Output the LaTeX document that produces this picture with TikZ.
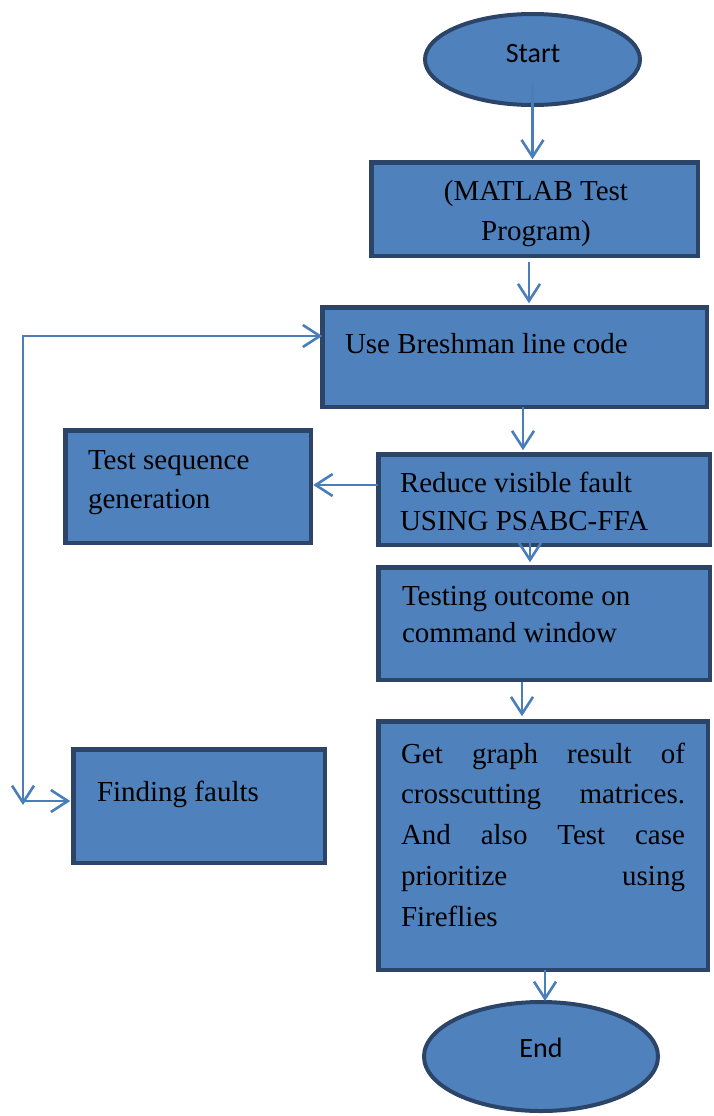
\documentclass[tikz,border=0pt]{standalone}
\usepackage{fontspec}
\setmainfont{Liberation Serif}
\newfontfamily\calib{Carlito}
\usetikzlibrary{arrows.meta,shapes.geometric,calc}
\definecolor{boxfill}{HTML}{4F81BD}
\definecolor{boxedge}{HTML}{2B4468}
\definecolor{flow}{HTML}{4A7EBB}
\newcommand{\bodyfont}[1]{\fontsize{29}{#1}\selectfont}
\begin{document}
\begin{tikzpicture}[x=1pt,y=-1pt,
  box/.style={rectangle, draw=boxedge, fill=boxfill, line width=4.5pt, inner sep=0pt, outer sep=0pt},
  term/.style={ellipse, draw=boxedge, fill=boxfill, line width=4pt, inner sep=0pt, outer sep=0pt},
  barb/.tip={Straight Barb[length=17pt,width=22pt,line width=2.6pt]},
  arr/.style={draw=flow, line width=2.6pt, -barb},
  arrboth/.style={draw=flow, line width=2.6pt, barb-barb},
  txt/.style={inner sep=0pt, outer sep=0pt, text=black}]

\path[fill=white] (0,0) rectangle (714,1116);
\useasboundingbox (0,0) rectangle (714,1116);

% terminals and process boxes
\node[term, minimum width=215pt, minimum height=91pt] (start) at (532.5,59.5) {};
\node[box, minimum width=326.5pt, minimum height=93.5pt] (matlab) at (534.5,209) {};
\node[box, minimum width=384.5pt, minimum height=99.5pt] (bresh) at (514.5,357) {};
\node[box, minimum width=331.5pt, minimum height=90.5pt] (reduce) at (544,499.5) {};
\node[box, minimum width=245.5pt, minimum height=112.5pt] (testseq) at (188,486.5) {};
\node[box, minimum width=331.5pt, minimum height=112.5pt] (testing) at (544,623.5) {};
\node[box, minimum width=329.5pt, minimum height=248.5pt] (graph) at (543,845.5) {};
\node[box, minimum width=251.5pt, minimum height=113.5pt] (finding) at (199,806) {};
\node[term, minimum width=234pt, minimum height=109pt] (end) at (541,1056.5) {};

% labels
\node[txt, anchor=base] (tstart) at (533,63) {\fontsize{28}{34}\selectfont\calib Start};
\node[txt, anchor=base] (tmatlab) at (536,200)
  {\bodyfont{40}\begin{tabular}[t]{@{}c@{}}(MATLAB Test\\Program)\end{tabular}};
\node[txt, anchor=base west] (tbresh) at (345,353) {\bodyfont{39}Use Breshman line code};
\node[txt, anchor=base west] (tseq) at (88,469)
  {\bodyfont{39}\begin{tabular}[t]{@{}l@{}}Test sequence\\generation\end{tabular}};
\node[txt, anchor=base west] (treduce) at (400,492)
  {\bodyfont{38}\begin{tabular}[t]{@{}l@{}}Reduce visible fault\\USING PSABC-FFA\end{tabular}};
\node[txt, anchor=base west] (ttesting) at (402,605)
  {\bodyfont{37}\begin{tabular}[t]{@{}l@{}}Testing outcome on\\command window\end{tabular}};
\node[txt, anchor=base west] (tgraph) at (401,763)
  {\parbox[t]{284pt}{\bodyfont{40.75}%
    \makebox[\linewidth][s]{Get graph result of}\\
    \makebox[\linewidth][s]{crosscutting matrices.}\\
    \makebox[\linewidth][s]{And also Test case}\\
    \makebox[\linewidth][s]{prioritize using}\\
    Fireflies}};
\node[txt, anchor=base west] (tfind) at (97,801) {\bodyfont{39}Finding faults};
\node[txt, anchor=base] (tend) at (541,1057) {\fontsize{28}{34}\selectfont\calib End};

% main flow
\draw[arr, shorten >=3pt] ([yshift=-24pt]start.center) -- (start.center |- matlab.north);
\draw[arr, shorten <=6pt, shorten >=4pt] (529,0 |- matlab.south) -- (529,0 |- bresh.north);
\draw[arr, shorten >=4pt] (523,0 |- bresh.south) -- (523,0 |- reduce.north);
\draw[arr, shorten >=2.5pt] (reduce.west |- 0,485) -- (testseq.east |- 0,485);
\draw[arr, shorten >=5pt] ($(530,0 |- reduce.south)+(0,-16)$) -- (530,0 |- testing.north);
\draw[arr, shorten <=2pt, shorten >=5pt] (522,0 |- testing.south) -- (522,0 |- graph.north);
\draw[arr, shorten >=1pt] (545,0 |- graph.south) -- (545,0 |- end.north);

% feedback loop on the left
\coordinate (corner) at (23,336);
\coordinate (drop) at (23,805);
\coordinate (split) at (23,801);
\draw[arrboth] (drop) -- (corner) -- (corner -| bresh.west);
\draw[arr, shorten >=3pt] (split) -- (split -| finding.west);
\end{tikzpicture}
\end{document}
